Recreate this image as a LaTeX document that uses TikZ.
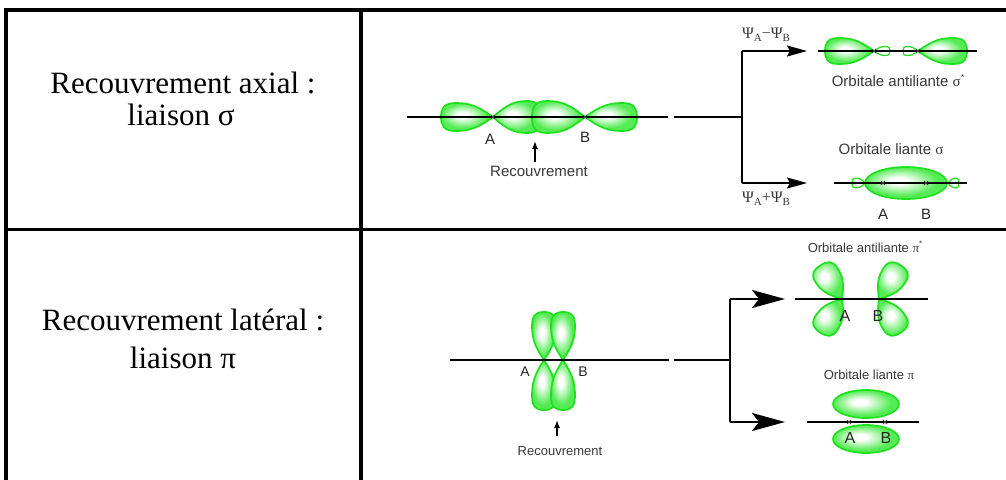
\documentclass[tikz,border=0pt]{standalone}
\usepackage{fontspec}
\setmainfont{Liberation Serif}
\setsansfont{Liberation Sans}
\usetikzlibrary{arrows.meta}

\definecolor{lobeline}{RGB}{30,225,30}
\definecolor{lobefill}{RGB}{85,235,85}
\definecolor{labelgray}{RGB}{55,55,55}

% white highlight fading into green towards the rim
\pgfdeclareradialshading{lobeshade}{\pgfpoint{-5bp}{4bp}}{%
  color(0bp)=(white); color(5bp)=(white); color(22bp)=(lobefill); color(50bp)=(lobefill)}

% one orbital lobe: tip at (#2,#3), pointing at angle #4, length #5, half width #6
\newcommand\orblobe[6][lobe]{%
  \begin{scope}[shift={(#2,#3)}, rotate=#4]
    \path[#1] (0,0)
      .. controls (0.3*#5,0.8*#6) and (0.45*#5,#6) .. (0.72*#5,#6)
      .. controls (0.95*#5,#6) and (#5,0.6*#6) .. (#5,0)
      .. controls (#5,-0.6*#6) and (0.95*#5,-#6) .. (0.72*#5,-#6)
      .. controls (0.45*#5,-#6) and (0.3*#5,-0.8*#6) .. (0,0) -- cycle;
  \end{scope}}

% small cross marking a nucleus
\newcommand\nucleus[1]{%
  \draw[nucmark] ($(#1)+(-2,-2)$) -- ($(#1)+(2,2)$) ($(#1)+(-2,2)$) -- ($(#1)+(2,-2)$);}

\newcommand\psub[1]{\raisebox{-3.5pt}{\fontsize{11}{12}\selectfont #1}}

\usetikzlibrary{calc}

\begin{document}
\begin{tikzpicture}[x=1pt,y=-1pt,
  rule/.style={line width=3.2pt},
  thinline/.style={line width=1.6pt},
  thickline/.style={line width=2.6pt},
  lobe/.style={draw=lobeline, line width=1.7pt, shading=lobeshade},
  minilobe/.style={draw=lobeline, line width=1.2pt, fill=white},
  nucmark/.style={line width=0.8pt, black!75},
  bigtext/.style={font=\fontsize{31}{36}\selectfont, inner sep=0pt, anchor=base},
  lab/.style={font=\sffamily\fontsize{15}{18}\selectfont, text=labelgray, inner sep=0pt, anchor=base},
  smalllab/.style={font=\sffamily\fontsize{13}{16}\selectfont, text=labelgray, inner sep=0pt, anchor=base},
  atomlab/.style={font=\sffamily\fontsize{15}{18}\selectfont, text=black!85, inner sep=0pt},
  psi/.style={font=\fontsize{16}{18}\selectfont, text=labelgray, inner sep=0pt},
  smallarrow/.style={line width=1.5pt, -{Latex[length=8pt,width=6pt]}},
  arrowA/.style={thinline, -{Stealth[length=20pt,width=11pt,inset=3pt]}},
  arrowB/.style={thickline, -{Stealth[length=33pt,width=18pt,inset=7pt]}}]

\useasboundingbox (0,0) rectangle (1006,479);
\clip (0,0) rectangle (1006,479);

% ---- table grid ----
\coordinate (tl) at (6,10);
\coordinate (tr) at (1010,10);
\coordinate (bl) at (6,485);
\coordinate (ml) at (6,229.5);
\coordinate (mr) at (1010,229.5);
\coordinate (st) at (361,10);
\coordinate (sb) at (361,485);
\draw[rule] (bl) -- (tl) -- (tr);
\draw[rule] (ml) -- (mr);
\draw[rule] (st) -- (sb);

% ---- left column ----
\node[bigtext] (t1a) at (183,93) {Recouvrement axial :};
\node[bigtext] (t1b) at (181,125) {liaison σ};
\node[bigtext] (t2a) at (183,330) {Recouvrement latéral :};
\node[bigtext] (t2b) at (183,368) {liaison π};

% ================= sigma row =================
\coordinate (sA) at (493,117);
\coordinate (sB) at (585,117);
\coordinate (sL) at (407,117);
\coordinate (sR) at (668,117);
\orblobe{493}{117}{180}{52}{14}
\orblobe{493}{117}{0}{48}{16}
\orblobe{585}{117}{0}{52}{14}
\orblobe{585}{117}{180}{53}{16}
\draw[thinline] (sL) -- (sR);
\nucleus{sA}
\nucleus{sB}
\node[atomlab] (sAl) at (490,139) {A};
\node[atomlab] (sBl) at (585,137) {B};
\node[lab] (srec) at (539,176) {Recouvrement};
\coordinate (sarrowbase) at (535,162);
\coordinate (sarrowtip) at (535,141);
\draw[smallarrow] (sarrowbase) -- (sarrowtip);

% splitting connector
\coordinate (sout) at (674,117);
\coordinate (ssplit) at (742,117);
\coordinate (stop) at (742,51);
\coordinate (sbot) at (742,183);
\coordinate (sstar) at (807,51);
\coordinate (sbond) at (807,183);
\draw[thinline] (sout) -- (ssplit);
\draw[thinline] (stop) -- (sbot);
\draw[arrowA] (stop) -- (sstar);
\draw[arrowA] (sbot) -- (sbond);
\node[psi] (psiminus) at (766,35) {Ψ\psub{A}−Ψ\psub{B}};
\node[psi] (psiplus) at (766,199) {Ψ\psub{A}+Ψ\psub{B}};

% antibonding sigma*
\coordinate (aA) at (874,51);
\coordinate (aB) at (918,51);
\coordinate (aL) at (818,51);
\coordinate (aR) at (977,51);
\orblobe{874}{51}{180}{49}{13}
\orblobe[minilobe]{874}{51}{0}{16}{4.5}
\orblobe[minilobe]{918}{51}{180}{15}{4.5}
\orblobe{918}{51}{0}{49}{13}
\draw[thinline] (aL) -- (aR);
\nucleus{aA}
\nucleus{aB}
\node[lab] (sstarlab) at (898,86) {Orbitale antiliante {\rmfamily σ}\raisebox{6pt}{\fontsize{9}{9}\selectfont *}};

% bonding sigma
\node[lab] (sbondlab) at (891,154) {Orbitale liante {\rmfamily σ}};
\coordinate (bA) at (883,183);
\coordinate (bB) at (926,183);
\coordinate (bL) at (834,183);
\coordinate (bR) at (967,183);
\orblobe[minilobe]{865}{183}{180}{13}{5}
\orblobe[minilobe]{948}{183}{0}{11}{5}
\path[lobe] (906,183) ellipse [x radius=41, y radius=16];
\draw[thinline] (bL) -- (bR);
\nucleus{bA}
\nucleus{bB}
\node[atomlab] (bAl) at (883,214) {A};
\node[atomlab] (bBl) at (926,214) {B};

% ================= pi row =================
\coordinate (pA) at (544,360);
\coordinate (pB) at (563,360);
\coordinate (pL) at (450,360);
\coordinate (pR) at (669,360);
\orblobe{544}{360}{90}{48}{12}
\orblobe{544}{360}{-90}{50}{12}
\orblobe{563}{360}{90}{48}{12}
\orblobe{563}{360}{-90}{50}{12}
\draw[thickline] (pL) -- (pR);
\node[atomlab, font=\sffamily\fontsize{14}{16}\selectfont] (pAl) at (525,372) {A};
\node[atomlab, font=\sffamily\fontsize{14}{16}\selectfont] (pBl) at (583,372) {B};
\coordinate (parrowbase) at (557,436);
\coordinate (parrowtip) at (557,420);
\draw[smallarrow] (parrowbase) -- (parrowtip);
\node[smalllab] (prec) at (560,455) {Recouvrement};

% splitting connector
\coordinate (pout) at (674,360);
\coordinate (psplit) at (730,360);
\coordinate (ptop) at (730,299);
\coordinate (pbot) at (730,422);
\coordinate (pstar) at (785,299);
\coordinate (pbond) at (785,422);
\draw[thickline] (pout) -- (psplit);
\draw[thickline] (ptop) -- (pbot);
\draw[arrowB] (ptop) -- (pstar);
\draw[arrowB] (pbot) -- (pbond);

% antibonding pi*
\node[smalllab] (pstarlab) at (865,252) {Orbitale antiliante {\rmfamily π}\raisebox{6pt}{\fontsize{8}{8}\selectfont *}};
\coordinate (qA) at (842,299);
\coordinate (qB) at (879,299);
\coordinate (qL) at (795,299);
\coordinate (qR) at (928,299);
\orblobe{842}{299}{123}{40}{13}
\orblobe{842}{299}{-123}{40}{13}
\orblobe{879}{299}{57}{40}{13}
\orblobe{879}{299}{-57}{40}{13}
\draw[thickline] (qL) -- (qR);
\node[atomlab, font=\sffamily\fontsize{16}{18}\selectfont] (qAl) at (845,316) {A};
\node[atomlab, font=\sffamily\fontsize{16}{18}\selectfont] (qBl) at (878,316) {B};

% bonding pi
\node[smalllab] (pbondlab) at (869,379) {Orbitale liante {\rmfamily π}};
\coordinate (rA) at (849,422);
\coordinate (rB) at (885,422);
\coordinate (rL) at (807,422);
\coordinate (rR) at (919,422);
\path[lobe] (866,404) ellipse [x radius=33, y radius=14];
\path[lobe] (866,439) ellipse [x radius=33, y radius=14];
\draw[thickline] (rL) -- (rR);
\nucleus{rA}
\nucleus{rB}
\node[atomlab, font=\sffamily\fontsize{16}{18}\selectfont] (rAl) at (850,438) {A};
\node[atomlab, font=\sffamily\fontsize{16}{18}\selectfont] (rBl) at (886,438) {B};

\end{tikzpicture}
\end{document}
